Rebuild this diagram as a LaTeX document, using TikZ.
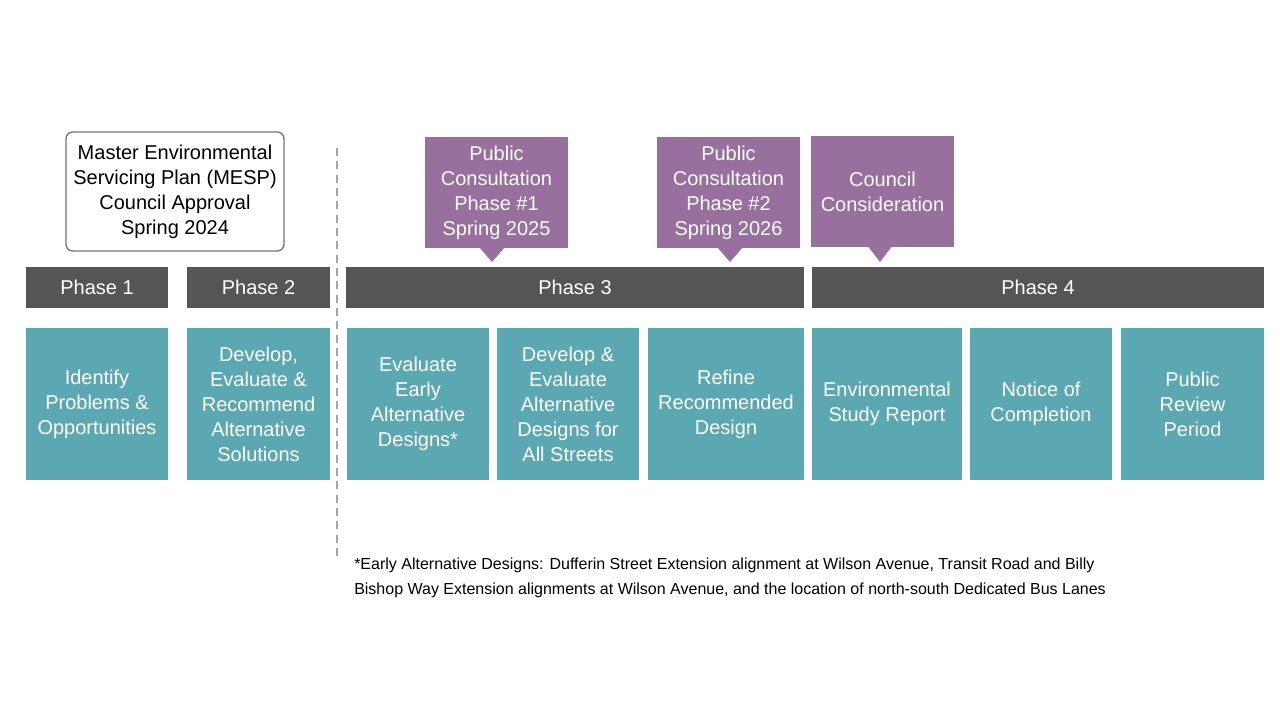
\documentclass[tikz,border=0pt]{standalone}
\usepackage{fontspec}
\setmainfont{Liberation Sans}
\definecolor{bar}{HTML}{555555}
\definecolor{teal2}{HTML}{5BA8B3}
\definecolor{purp}{HTML}{98709E}
\begin{document}
\begin{tikzpicture}[x=0.75pt,y=-0.75pt,
  txt/.style={font=\fontsize{15}{18.75}\selectfont,align=center,inner sep=0pt,text=white},
  phasebar/.style={txt,fill=bar,minimum height=30.75pt},
  tbox/.style={txt,fill=teal2,minimum height=114pt},
  pbox/.style={txt,fill=purp,minimum width=107.25pt,minimum height=83.25pt}]
\useasboundingbox (0,0) rectangle (1280,720);
\node[draw=gray!90!black,line width=1pt,rounded corners=5pt,minimum width=163.5pt,minimum height=89.25pt,txt,text=black] (mesp) at (175,191.5) {Master Environmental\\Servicing Plan (MESP)\\Council Approval\\Spring 2024};
\node[phasebar,minimum width=106.5pt] (p1) at (97,287.5) {Phase 1};
\node[phasebar,minimum width=107.25pt] (p2) at (258.5,287.5) {Phase 2};
\node[phasebar,minimum width=343.5pt] (p3) at (575,287.5) {Phase 3};
\node[phasebar,minimum width=339pt] (p4) at (1038,287.5) {Phase 4};
\node[tbox,minimum width=106.5pt] (t1) at (97,404) {Identify\\Problems \&\\Opportunities};
\node[tbox,minimum width=107.25pt] (t2) at (258.5,404) {Develop,\\Evaluate \&\\Recommend\\Alternative\\Solutions};
\node[tbox,minimum width=106.5pt] (t3) at (418,404) {Evaluate\\Early\\Alternative\\Designs*};
\node[tbox,minimum width=106.5pt] (t4) at (568,404) {Develop \&\\Evaluate\\Alternative\\Designs for\\All Streets};
\node[tbox,minimum width=117pt] (t5) at (726,404) {Refine\\Recommended\\Design};
\node[tbox,minimum width=112.5pt] (t6) at (887,404) {Environmental\\Study Report};
\node[tbox,minimum width=106.5pt] (t7) at (1041,404) {Notice of\\Completion};
\node[tbox,minimum width=107.25pt] (t8) at (1192.5,404) {Public\\Review\\Period};
\node[pbox] (c1) at (496.5,192.5) {Public\\Consultation\\Phase \#1\\Spring 2025};
\fill[purp] (479,247) -- (505,247) -- (492,262) -- cycle;
\node[pbox] (c2) at (728.5,192.5) {Public\\Consultation\\Phase \#2\\Spring 2026};
\fill[purp] (717,247) -- (743,247) -- (730,262) -- cycle;
\node[pbox] (c3) at (882.5,191.5) {Council\\Consideration};
\fill[purp] (867,245) -- (893,245) -- (880,262) -- cycle;
\coordinate (d1) at (337,148); \coordinate (d2) at (337,560);
\draw[gray!70,line width=2.2pt,dash pattern=on 6pt off 4pt] (d1) -- (d2);
\node[anchor=north west,inner sep=0pt,align=left,font=\fontsize{12}{18.75}\selectfont] (fn) at (354,558) {*Early Alternative Designs: Dufferin Street Extension alignment at Wilson Avenue, Transit Road and Billy\\Bishop Way Extension alignments at Wilson Avenue, and the location of north-south Dedicated Bus Lanes};
\end{tikzpicture}
\end{document}
